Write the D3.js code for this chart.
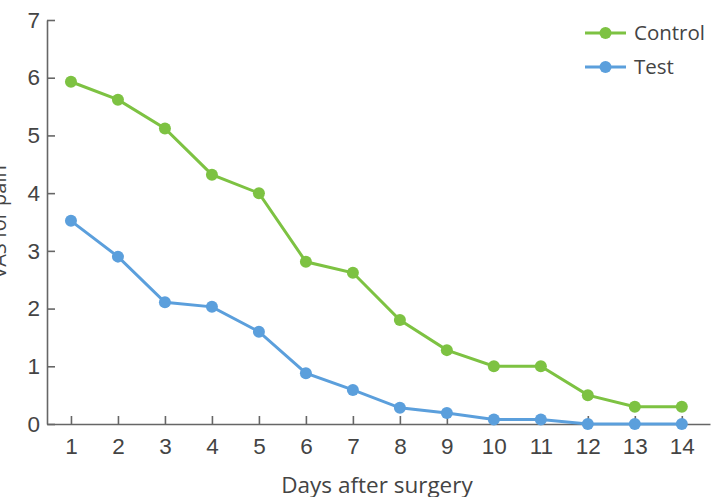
<!DOCTYPE html>
<html>
<head>
<meta charset="utf-8">
<script src="https://cdn.jsdelivr.net/npm/d3@7"></script>
<style>
  body { margin: 0; background: #fff; }
  .axis path, .axis line { stroke: #666; stroke-width: 1.6px; }
</style>
</head>
<body>
<div class="chart"></div>
<script>
var days = [1, 2, 3, 4, 5, 6, 7, 8, 9, 10, 11, 12, 13, 14];
var control = [5.93, 5.62, 5.12, 4.32, 4.0, 2.81, 2.62, 1.8, 1.28, 1.0, 1.0, 0.5, 0.3, 0.3];
var test = [3.52, 2.9, 2.11, 2.03, 1.6, 0.88, 0.59, 0.28, 0.19, 0.08, 0.08, 0, 0, 0];
var yTicks = [0, 1, 2, 3, 4, 5, 6, 7];
var seriesNames = ["Control", "Test"];
var colors = ["#7dc242", "#5b9fdc"];

var width = 723, height = 497;

var svg = d3.select(".chart").append("svg")
    .attr("width", width)
    .attr("height", height);

var x = d3.scaleLinear()
    .domain([0.49, 14.6])
    .range([47, 710]);

var y = d3.scaleLinear()
    .domain([0, 7])
    .range([424, 20]);

var xAxis = d3.axisBottom(x)
    .tickValues(days)
    .tickFormat(d3.format("d"))
    .tickSizeInner(-8)
    .tickSizeOuter(0)
    .tickPadding(14);

var yAxis = d3.axisLeft(y)
    .tickValues(yTicks)
    .tickFormat(d3.format("d"))
    .tickSizeInner(-8)
    .tickSizeOuter(0)
    .tickPadding(7);

svg.append("g")
    .attr("class", "y axis")
    .attr("transform", "translate(47,0)")
    .call(yAxis);

svg.append("g")
    .attr("class", "x axis")
    .attr("transform", "translate(0,424)")
    .call(xAxis);

svg.selectAll(".axis .tick text")
    .style("font-family", "'Liberation Sans', Arial, sans-serif")
    .style("font-size", "22.5px")
    .style("fill", "#444");

var line = d3.line()
    .x(function(d, i){ return x(days[i]); })
    .y(function(d){ return y(d); });

[control, test].forEach(function(vals, k) {
  svg.append("path")
      .datum(vals)
      .attr("d", line)
      .attr("fill", "none")
      .attr("stroke", colors[k])
      .attr("stroke-width", 3);

  svg.selectAll(".pt" + k)
      .data(vals)
      .enter().append("circle")
      .attr("class", "pt" + k)
      .attr("cx", function(d, i){ return x(days[i]); })
      .attr("cy", function(d){ return y(d); })
      .attr("r", 6)
      .style("fill", colors[k]);
});

// legend
var legend = svg.selectAll(".legend")
    .data(seriesNames)
    .enter().append("g")
    .attr("class", "legend")
    .attr("transform", function(d, i){ return "translate(585," + (33 + i * 34) + ")"; });

legend.append("line")
    .attr("x1", 0).attr("x2", 41)
    .attr("stroke", function(d, i){ return colors[i]; })
    .attr("stroke-width", 3);

legend.append("circle")
    .attr("cx", 20.5)
    .attr("r", 6)
    .style("fill", function(d, i){ return colors[i]; });

legend.append("text")
    .attr("x", 49)
    .attr("dy", "0.35em")
    .style("font-family", "'Open Sans', sans-serif")
    .style("font-size", "20.5px")
    .style("fill", "#444")
    .text(function(d){ return d; });

// axis titles
svg.append("text")
    .attr("text-anchor", "middle")
    .attr("x", 377)
    .attr("y", 493)
    .style("font-family", "'Open Sans', sans-serif")
    .style("font-size", "22.5px")
    .style("fill", "#444")
    .text("Days after surgery");

svg.append("text")
    .attr("text-anchor", "middle")
    .attr("transform", "translate(6,222)rotate(-90)")
    .style("font-family", "'Open Sans', sans-serif")
    .style("font-size", "20px")
    .style("fill", "#444")
    .text("VAS for pain");
</script>
</body>
</html>
